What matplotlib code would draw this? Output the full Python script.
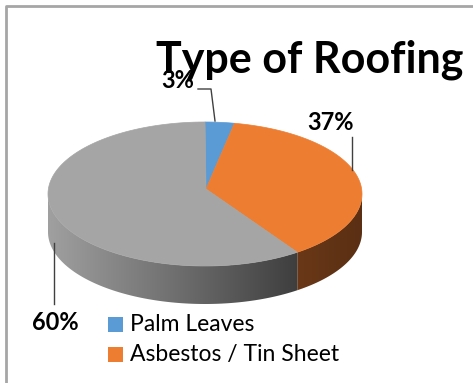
import numpy as np
import matplotlib
matplotlib.use("Agg")
import matplotlib.pyplot as plt
from matplotlib.patches import Polygon, Rectangle
from matplotlib.colors import LinearSegmentedColormap

# Chart data
categories = ["Palm Leaves", "Asbestos / Tin Sheet", "Others"]
shares = [3, 37, 60]
pct_labels = ["3%", "37%", "60%"]
legend_items = ["Palm Leaves", "Asbestos / Tin Sheet"]
title = "Type of Roofing"

top_colors = ["#5B9BD5", "#ED7D31", "#A5A5A5"]
FONT = "Lato"

W, H = 473, 383
fig = plt.figure(figsize=(W / 100, H / 100), dpi=100)
ax = fig.add_axes([0, 0, 1, 1])
ax.set_xlim(0, W)
ax.set_ylim(H, 0)
ax.axis("off")

# chart frame (top and left edges visible)
ax.plot([5.5, 5.5, W + 5], [H + 5, 6, 6], color="#A6A6A6", lw=2, solid_capstyle="butt")

# 3D pie geometry (pixel space)
cx, cy, rx, ry, depth = 205, 194, 157, 72, 38
apex = (206, 189)


def rim(a0, a1, n=200, dy=0.0):
    t = np.radians(np.linspace(a0, a1, n))
    return np.column_stack([cx + rx * np.sin(t), cy - ry * np.cos(t) + dy])


total = float(sum(shares))
bounds = np.concatenate([[0], np.cumsum(shares) / total * 360.0])

# side walls (front half: 90..270 degrees clockwise from top)
side_specs = []
for i in range(len(shares)):
    a0, a1 = max(bounds[i], 90), min(bounds[i + 1], 270)
    if a1 > a0:
        side_specs.append((i, a0, a1))

gray_cmap = LinearSegmentedColormap.from_list("g", ["#A0A0A0", "#707070", "#3E3E3E"])
orange_cmap = LinearSegmentedColormap.from_list("o", ["#6A3818", "#5A2F13"])
side_cmaps = {1: orange_cmap, 2: gray_cmap}

for i, a0, a1 in side_specs:
    upper = rim(a0, a1)
    lower = rim(a1, a0, dy=depth)
    poly = Polygon(np.vstack([upper, lower]), closed=True, facecolor="none", edgecolor="none")
    ax.add_patch(poly)
    xs = np.concatenate([upper[:, 0], lower[:, 0]])
    x0, x1 = xs.min(), xs.max()
    grad = np.linspace(0, 1, 256).reshape(1, -1)
    im = ax.imshow(grad, cmap=side_cmaps.get(i, gray_cmap), aspect="auto",
                   extent=[x0, x1, cy + ry + depth + 2, cy - 2], zorder=1,
                   interpolation="bilinear")
    im.set_clip_path(poly)

# top faces
for i in range(len(shares)):
    pts = np.vstack([[apex], rim(bounds[i], bounds[i + 1])])
    ax.add_patch(Polygon(pts, closed=True, facecolor=top_colors[i],
                         edgecolor=top_colors[i], lw=0.5, zorder=2))

# title
ax.text(310, 60, title, fontsize=31, fontweight="bold", family=FONT,
        ha="center", va="center", color="black", zorder=4)

# percentage labels with leader lines
lab_kw = dict(fontsize=17, fontweight="bold", family=FONT, color="black",
              ha="center", va="center", zorder=5)
ax.text(178, 81, pct_labels[0], **lab_kw)
ax.plot([198, 211, 215], [89, 89, 121], color="#404040", lw=1, zorder=3)
ax.text(331, 122, pct_labels[1], **lab_kw)
ax.plot([352, 352], [137, 170], color="#404040", lw=1, zorder=3)
ax.text(55, 322, pct_labels[2], **lab_kw)
ax.plot([54, 54], [243, 304], color="#404040", lw=1, zorder=3)

# legend
for k, name in enumerate(legend_items):
    y = 324.5 + k * 29.5
    ax.add_patch(Rectangle((108, y - 7.5), 15, 15, facecolor=top_colors[k],
                           edgecolor="none", zorder=3))
    ax.text(130, y, name, fontsize=16.5, family=FONT, color="black",
            ha="left", va="center", zorder=3)

fig.savefig("out.png", dpi=100)
